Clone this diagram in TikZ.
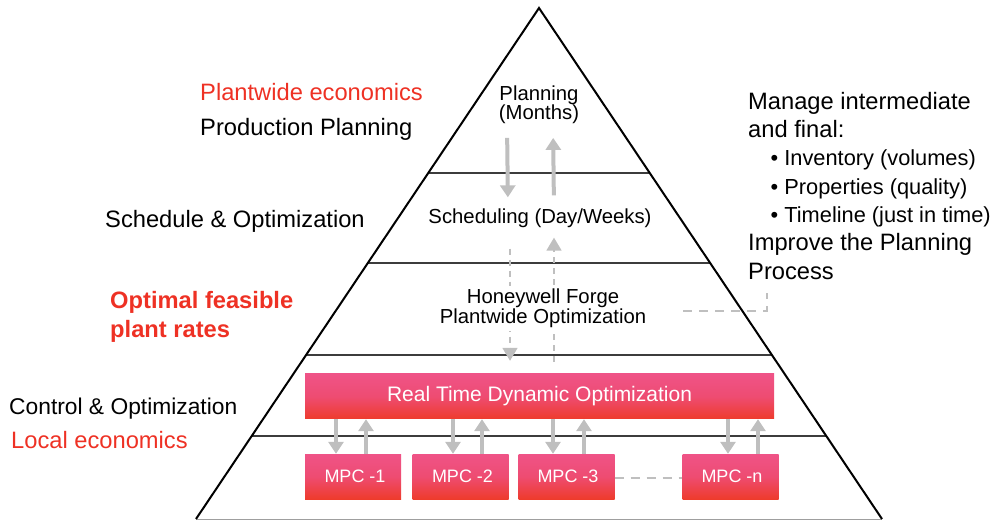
\documentclass[tikz,border=0pt]{standalone}
\usepackage{fontspec}
\setmainfont{Liberation Sans}
\usepackage{tikz}
\usetikzlibrary{arrows.meta}
\usetikzlibrary{calc}
\definecolor{arrgray}{HTML}{BFBFBF}
\definecolor{boxtop}{HTML}{EF5387}
\definecolor{boxmid}{HTML}{EE4C72}
\definecolor{boxbot}{HTML}{EE3B2C}
\definecolor{ecored}{HTML}{EE3124}
\definecolor{layergray}{HTML}{3C3C3C}
\tikzset{
  side_txt/.style = {anchor=base west, inner sep=0pt,
    font=\fontsize{23.7}{29}\selectfont},% labels beside the pyramid
  red_txt/.style = {side_txt, text=ecored},
  lvl_txt/.style = {align=center, inner sep=0pt,
    font=\fontsize{20.3}{19.5}\selectfont},% text of each layer
  opt_box/.style = {rectangle, inner sep=0pt, text=white,
    top color=boxtop, bottom color=boxbot, middle color=boxmid,
    minimum height=45pt},
  mpc_box/.style = {opt_box, minimum width=96pt,
    font=\fontsize{18}{18}\selectfont},% controllers
  big_arr/.style = {arrgray, line width=4pt,
    -{Triangle[width=15pt,length=12pt]}},
  dash_arr/.style = {arrgray, line width=1.8pt, dash pattern=on 6pt off 5pt,
    -{Triangle[width=15pt,length=13pt]}},
  link_line/.style = {arrgray, line width=2.2pt, dash pattern=on 9pt off 7pt}
}
\newcommand{\bul}[1]{\hspace*{22.5pt}{\fontsize{21.8}{28.3}\selectfont • #1}}

\begin{document}
\begin{tikzpicture}[x=1pt,y=-1pt]
\useasboundingbox (0,0) rectangle (994,521);

% pyramid and its layers
\coordinate (top) at (539,8);
\coordinate (bl) at (196,519);
\coordinate (br) at (882,519);
\draw[line width=1pt, gray!75] (bl) -- (br);
\foreach \f in {0.3229,0.4990,0.6791,0.8376}
  \draw[layergray, line width=1.3pt] ($(top)!\f!(bl)$) -- ($(top)!\f!(br)$);
\draw[line width=2pt] (bl) -- (top) -- (br);

\node[lvl_txt] (plan) at (539,104.5) {Planning\\(Months)};
\node[lvl_txt] (sched) at (540,218) {Scheduling (Day/Weeks)};

\node[opt_box, minimum width=469pt, font=\fontsize{21}{20}\selectfont]
  (rtdo) at (539.5,396.5) {Real Time Dynamic Optimization};
\node[mpc_box] (m1) at (353,476.5) {\hspace{4pt}MPC -1};
\node[mpc_box] (m2) at (460.5,476.5) {\hspace{4pt}MPC -2};
\node[mpc_box] (m3) at (566.5,476.5) {\hspace{3pt}MPC -3};
\node[mpc_box] (mn) at (730.5,476.5) {\hspace{3pt}MPC -n};

\draw[big_arr, shorten <=14pt, shorten >=11pt] ([xshift=-32]plan.south) -- ([xshift=-32]sched.north);
\draw[big_arr, shorten <=13pt, shorten >=14pt] ([xshift=14]sched.north) -- ([xshift=14]plan.south);

\draw[dash_arr, shorten <=21pt, shorten >=13pt] ([xshift=-30]sched.south) -- ([xshift=-30]sched.south |- rtdo.north);
\draw[dash_arr, shorten <=12pt, shorten >=10pt] ([xshift=14]sched.south |- rtdo.north) -- ([xshift=14]sched.south);

% drawn after the dashed arrows so it hides them
\node[lvl_txt, fill=white, inner sep=3pt] (hw) at (543,308.5)
  {Honeywell Forge\\Plantwide Optimization};

\foreach \m/\dx/\ux in {m1/-17/13, m2/-7.5/21.5, m3/-13.5/17.5, mn/-2.5/27.5} {
  \draw[big_arr] ([xshift=\dx]\m.north |- rtdo.south) -- ([xshift=\dx]\m.north);
  \draw[big_arr] ([xshift=\ux]\m.north) -- ([xshift=\ux]\m.north |- rtdo.south);
}
\draw[link_line] ([yshift=-1.5]m3.east) -- ([yshift=-1.5]mn.west);

\coordinate (lk_a) at (683,311);
\coordinate (lk_b) at (767,293);
\draw[link_line] (lk_a) -| (lk_b);

% left side labels
\node[red_txt] (pe) at (200,100.5) {Plantwide economics};
\node[side_txt] (pp) at (200,136) {Production Planning};
\node[side_txt] (so) at (105,228) {Schedule \& Optimization};
\node[red_txt, anchor=north west, align=left,
  font=\fontsize{23.7}{29}\selectfont\bfseries] (ofr) at (110,291)
  {Optimal feasible\\plant rates};
\node[side_txt, font=\fontsize{22.8}{29}\selectfont] (co) at (9,414) {Control \& Optimization};
\node[red_txt] (le) at (11,448) {Local economics};

% notes on the right
\node[anchor=north west, inner sep=0pt, align=left,
  font=\fontsize{23.7}{28.3}\selectfont] (notes) at (748,92)
  {Manage intermediate\\and final:\\
   \bul{Inventory (volumes)}\\
   \bul{Properties (quality)}\\
   \bul{Timeline (just in time)}\\
   Improve the Planning\\Process};
\end{tikzpicture}
\end{document}
